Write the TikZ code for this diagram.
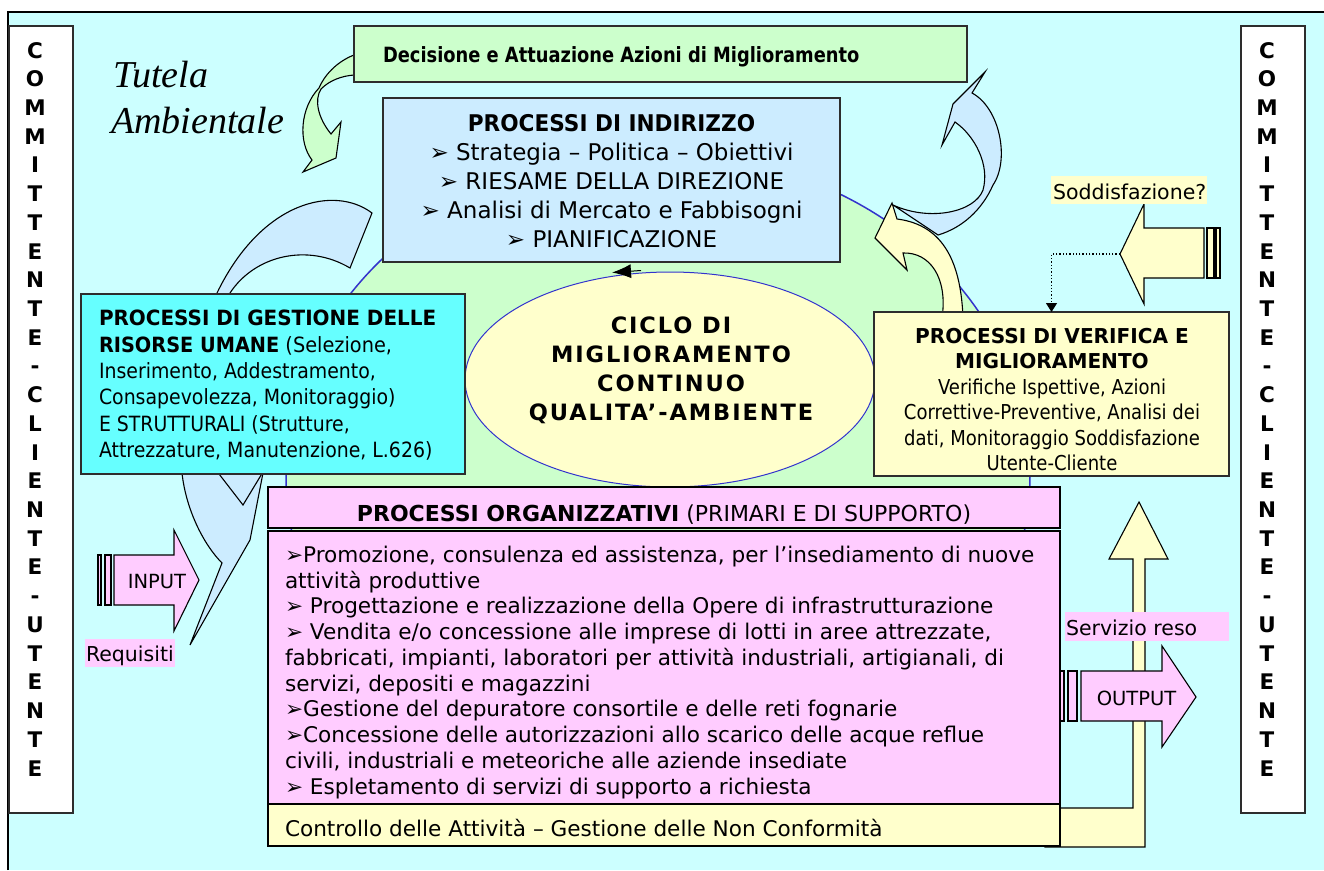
\documentclass[tikz,border=0pt]{standalone}
\usepackage{fontspec}
\usepackage{graphicx}
\setmainfont{DejaVu Sans}
\newfontfamily\serifit{Liberation Serif}
\newfontfamily\ellf{DejaVu Sans}[LetterSpace=8.5]
\usetikzlibrary{arrows.meta,shapes.geometric}
\definecolor{bgc}{RGB}{204,255,255}
\definecolor{grn}{RGB}{204,255,204}
\definecolor{lblue}{RGB}{204,236,255}
\definecolor{cyn}{RGB}{102,255,255}
\definecolor{ylw}{RGB}{255,255,204}
\definecolor{pnk}{RGB}{255,204,255}
\definecolor{eblue}{RGB}{51,51,204}
\definecolor{boxedge}{RGB}{45,45,45}
\newcommand\fs[1]{\fontsize{#1}{#1}\selectfont}
\newcommand\hs[2]{\scalebox{#1}[1]{#2}}
\newcommand\bul{➢}
\begin{document}
\begin{tikzpicture}[x=1pt,y=-1pt,
  box/.style={draw=boxedge, line width=1.4pt, inner sep=0pt, outer sep=0pt, anchor=north west},
  txt/.style={inner sep=0pt, outer sep=0pt},
  shp/.style={draw=black, line width=1.1pt, line join=miter},
  lab/.style={inner sep=0pt, outer sep=0pt, anchor=north west},
  letter/.style={txt, anchor=base, font=\bfseries\fs{21.5}},
  body/.style={txt, anchor=base west, font=\fs{21.6}},
  ell/.style={txt, anchor=base, font=\ellf\bfseries\fs{22.5}}]
\useasboundingbox (0,0) rectangle (1324,870);
\clip (0,0) rectangle (1324,870);
\fill[white] (0,0) rectangle (1324,870);
\fill[bgc] (8,12) rectangle (1324,870);
\draw[line width=2pt] (8,870) -- (8,12) -- (1324,12);

% side columns
\node[box, fill=white, minimum width=64pt, minimum height=787pt] (colL) at (9,26) {};
\node[box, fill=white, minimum width=64pt, minimum height=787pt] (colR) at (1241,26) {};
\foreach \ch [count=\i from 0] in {C,O,M,M,I,T,T,E,N,T,E,-,C,L,I,E,N,T,E,-,U,T,E,N,T,E} {
  \node[letter] (cl\i) at (35,58+\i*28.72) {\ch};
  \node[letter] (cr\i) at (1267,58+\i*28.72) {\ch};
}

% big green ellipse
\node[ellipse, draw=eblue, line width=1.5pt, fill=grn, minimum width=744pt, minimum height=644pt, inner sep=0pt] (env) at (658,475) {};

% blue curved arrow (left)
\draw[shp, fill=lblue] (372,213) .. controls (335,185) and (262,200) .. (217,293)
  .. controls (195,345) and (176,425) .. (182,473)
  .. controls (186,510) and (204,545) .. (222,563) -- (190,645) -- (250,540) -- (263,473)
  .. controls (262,420) and (228,350) .. (230,293)
  .. controls (255,255) and (308,243) .. (350,268) -- cycle;
\draw[shp] (209,461) -- (243,505) -- (269,462);

% green curved arrow (top left)
\draw[shp, fill=grn] (354,55) .. controls (336,62) and (324,76) .. (319,88)
  .. controls (300,108) and (298,142) .. (312,160) -- (303,172) -- (336,158) -- (341,122) -- (331,134)
  .. controls (318,118) and (314,100) .. (321,89)
  .. controls (330,80) and (342,76) .. (354,75) -- cycle;

\node[txt, anchor=base west, font=\serifit\itshape\fs{38}] (tut1) at (113,87) {Tutela};
\node[txt, anchor=base west, font=\serifit\itshape\fs{38}] (tut2) at (111,133) {Ambientale};

% decision box
\node[box, fill=grn, minimum width=613pt, minimum height=56pt] (dec) at (354,26) {};
\node[txt, anchor=base west, font=\bfseries\fs{21}] (dect) at (383,62) {\hs{.85}{Decisione e Attuazione Azioni di Miglioramento}};

% indirizzo box
\node[box, fill=lblue, minimum width=457pt, minimum height=164pt] (ind) at (383,98) {};
\node[txt, anchor=base, font=\bfseries\fs{23}] (ind1) at (611.5,131) {\hs{.94}{PROCESSI DI INDIRIZZO}};
\node[txt, anchor=base, font=\fs{23}] (ind2) at (611.5,160) {\bul{} Strategia – Politica – Obiettivi};
\node[txt, anchor=base, font=\fs{23}] (ind3) at (611.5,189) {\bul{} RIESAME DELLA DIREZIONE};
\node[txt, anchor=base, font=\fs{23}] (ind4) at (611.5,218) {\bul{} Analisi di Mercato e Fabbisogni};
\node[txt, anchor=base, font=\fs{23}] (ind5) at (611.5,247) {\bul{} PIANIFICAZIONE};

% inner cycle ellipse
\node[ellipse, draw=eblue, line width=1pt, fill=ylw, minimum width=410pt, minimum height=215pt, inner sep=0pt] (cyc) at (670,379.5) {};
\node[ell] (cy1) at (671,333) {CICLO DI};
\node[ell] (cy2) at (671,362) {MIGLIORAMENTO};
\node[ell] (cy3) at (671,391) {CONTINUO};
\node[ell] (cy4) at (671,420) {QUALITA’-AMBIENTE};
\coordinate (ca) at (641,270.5);
\coordinate (cb) at (612,272.5);
\draw[line width=1pt, -{Latex[length=19pt,width=14pt]}] (ca) -- (cb);

% risorse box
\node[box, fill=cyn, minimum width=384pt, minimum height=180pt] (ris) at (81,294) {};
\node[txt, anchor=base west, font=\fs{21}] (ri1) at (99,325) {\hs{.95}{\bfseries PROCESSI DI GESTIONE DELLE}};
\node[txt, anchor=base west, font=\fs{21}] (ri2) at (99,352) {\hs{.92}{\textbf{RISORSE UMANE} (Selezione,}};
\node[txt, anchor=base west, font=\fs{21}] (ri3) at (99,378) {\hs{.9}{Inserimento, Addestramento,}};
\node[txt, anchor=base west, font=\fs{21}] (ri4) at (99,404) {\hs{.9}{Consapevolezza, Monitoraggio)}};
\node[txt, anchor=base west, font=\fs{21}] (ri5) at (99,431) {\hs{.9}{E STRUTTURALI (Strutture,}};
\node[txt, anchor=base west, font=\fs{21}] (ri6) at (99,457) {\hs{.9}{Attrezzature, Manutenzione, L.626)}};

% right curved arrows
\draw[shp, fill=lblue] (893,205) .. controls (930,222) and (975,212) .. (983,190)
  .. controls (990,165) and (975,136) .. (955,122) -- (942,145) -- (953,104) -- (985,72) -- (972,93)
  .. controls (1000,108) and (1010,160) .. (993,185)
  .. controls (982,210) and (962,228) .. (938,235) -- cycle;
\draw[shp, fill=ylw] (963,318) .. controls (961,265) and (945,225) .. (897,219) -- (892,203) -- (875,238) -- (907,270) -- (903,253)
  .. controls (930,252) and (948,278) .. (942,318) -- cycle;

% verifica box
\node[box, fill=ylw, minimum width=355pt, minimum height=164pt] (ver) at (874,312) {};
\node[txt, anchor=base, font=\bfseries\fs{20.5}] (ve1) at (1052,343) {\hs{.98}{PROCESSI DI VERIFICA E}};
\node[txt, anchor=base, font=\bfseries\fs{20.5}] (ve2) at (1052,368.5) {\hs{.98}{MIGLIORAMENTO}};
\node[txt, anchor=base, font=\fs{20.5}] (ve3) at (1052,394) {\hs{.88}{Verifiche Ispettive, Azioni}};
\node[txt, anchor=base, font=\fs{20.5}] (ve4) at (1052,419.5) {\hs{.88}{Correttive-Preventive, Analisi dei}};
\node[txt, anchor=base, font=\fs{20.5}] (ve5) at (1052,445) {\hs{.88}{dati, Monitoraggio Soddisfazione}};
\node[txt, anchor=base, font=\fs{20.5}] (ve6) at (1052,470.5) {\hs{.88}{Utente-Cliente}};

% big L arrow (servizio reso)
\draw[shp, fill=ylw] (1045,847) -- (1145,847) -- (1145,559) -- (1168,559) -- (1139,502) -- (1109,559) -- (1133,559) -- (1133,808) -- (1045,808) -- cycle;

% organizzativi boxes
\node[box, draw=black, fill=pnk, minimum width=792pt, minimum height=41pt] (orgh) at (268,487) {};
\node[txt, anchor=base, font=\fs{22}] (orght) at (664,521) {\textbf{PROCESSI ORGANIZZATIVI} (PRIMARI E DI SUPPORTO)};
\node[box, draw=black, fill=pnk, minimum width=792pt, minimum height=273pt] (org) at (268,531) {};
\node[box, draw=black, fill=ylw, minimum width=792pt, minimum height=42pt] (ctl) at (268,804) {};
\node[body] (o1) at (285,562) {\bul{}Promozione, consulenza ed assistenza, per l'insediamento di nuove};
\node[body] (o2) at (285,588) {attività produttive};
\node[body] (o3) at (285,613.5) {\bul{} Progettazione e realizzazione della Opere di infrastrutturazione};
\node[body] (o4) at (285,639.5) {\bul{} Vendita e/o concessione alle imprese di lotti in aree attrezzate,};
\node[body] (o5) at (285,665) {fabbricati, impianti, laboratori per attività industriali, artigianali, di};
\node[body] (o6) at (285,691) {servizi, depositi e magazzini};
\node[body] (o7) at (285,716.5) {\bul{}Gestione del depuratore consortile e delle reti fognarie};
\node[body] (o8) at (285,742.5) {\bul{}Concessione delle autorizzazioni allo scarico delle acque reflue};
\node[body] (o9) at (285,768) {civili, industriali e meteoriche alle aziende insediate};
\node[body] (o10) at (285,794) {\bul{} Espletamento di servizi di supporto a richiesta};
\node[body] (ctlt) at (285,836) {Controllo delle Attività – Gestione delle Non Conformità};

% output arrow
\draw[shp, fill=pnk] (1060,671) rectangle (1064,721);
\draw[shp, fill=pnk] (1068,671) rectangle (1077,721);
\draw[shp, fill=pnk] (1081,671) -- (1162,671) -- (1162,646) -- (1196,697) -- (1162,747) -- (1162,721) -- (1081,721) -- cycle;
\node[txt, anchor=base, font=\fs{19.5}] (outt) at (1136.5,705) {OUTPUT};
\node[lab, fill=pnk, minimum width=164pt, minimum height=29pt] (srv) at (1065,612) {};
\node[txt, anchor=base west, font=\fs{20.5}] (srvt) at (1066,635) {Servizio reso};

% input arrow
\draw[shp, fill=pnk] (98,555) rectangle (101,605);
\draw[shp, fill=pnk] (105,555) rectangle (111,605);
\draw[shp, fill=pnk] (114,555) -- (174,555) -- (174,530) -- (199,580) -- (174,631) -- (174,605) -- (114,605) -- cycle;
\node[txt, anchor=base, font=\fs{19.5}] (inpt) at (157,588) {INPUT};
\node[lab, fill=pnk, minimum width=90pt, minimum height=28pt] (req) at (85,639) {};
\node[txt, anchor=base west, font=\fs{20.5}] (reqt) at (86,661) {Requisiti};

% soddisfazione arrow
\draw[shp, fill=ylw] (1207,228) rectangle (1214,278);
\draw[shp, fill=ylw] (1216,228) rectangle (1220,278);
\draw[shp, fill=ylw] (1120,254) -- (1144,204) -- (1144,228) -- (1204,228) -- (1204,278) -- (1144,278) -- (1144,304) -- cycle;
\coordinate (sodtip) at (1120,254);
\node[lab, fill=ylw, minimum width=156pt, minimum height=28pt] (sod) at (1051,176) {};
\node[txt, anchor=base west, font=\fs{20.5}] (sodt) at (1053,199) {Soddisfazione?};
\draw[dotted, line width=1.3pt, -{Triangle[length=9pt,width=11pt]}] (sodtip) -| (ver.north);
\end{tikzpicture}
\end{document}
